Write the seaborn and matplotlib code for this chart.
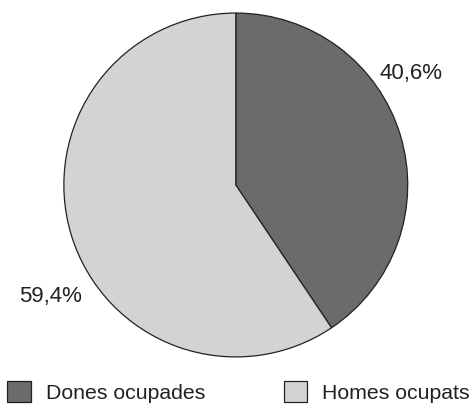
"""Pie chart: employed women vs employed men."""

import matplotlib

matplotlib.use("Agg")
import matplotlib.pyplot as plt
import seaborn as sns

labels = ["Dones ocupades", "Homes ocupats"]
shares = [40.6, 59.4]
share_text = ["40,6%", "59,4%"]

COLORS = ["#6b6b6b", "#d3d3d3"]

sns.set_theme(style="white")
plt.rcParams["font.family"] = ["Liberation Sans", "DejaVu Sans"]

fig = plt.figure(figsize=(4.73, 4.07), dpi=100)
ax = fig.add_axes([0.135, 0.123, 0.727, 0.845])

wedges, _ = ax.pie(
    shares,
    colors=COLORS,
    startangle=90,
    counterclock=False,
    radius=1.0,
    wedgeprops={"edgecolor": "#222222", "linewidth": 0.9},
)
ax.set_xlim(-1, 1)
ax.set_ylim(-1, 1)
ax.set_aspect("equal")
ax.axis("off")

# percentage labels outside the pie
label_pos = [(1.02, 0.65), (-1.08, -0.65)]
for txt, (x, y) in zip(share_text, label_pos):
    ax.text(x, y, txt, ha="center", va="center", fontsize=16, color="#222222", clip_on=False)

fig.legend(
    wedges,
    labels,
    ncol=2,
    loc="lower left",
    bbox_to_anchor=(-0.007, -0.016),
    frameon=False,
    fontsize=15.3,
    handlelength=1.1,
    handleheight=1.1,
    handletextpad=0.7,
    columnspacing=3.7,
    borderpad=0,
    labelcolor="#222222",
)

fig.savefig("out.png", dpi=100, facecolor="white")
